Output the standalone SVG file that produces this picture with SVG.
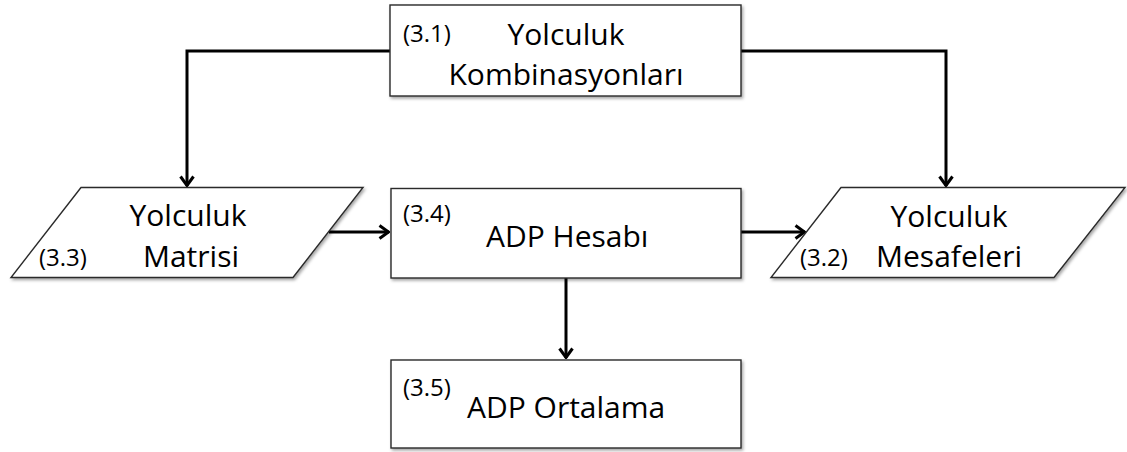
<svg xmlns="http://www.w3.org/2000/svg" width="1127" height="452" viewBox="0 0 1127 452">
  <defs>
    <filter id="shadow" x="-10%" y="-10%" width="120%" height="130%">
      <feDropShadow dx="1.5" dy="2" stdDeviation="1.5" flood-color="#000" flood-opacity="0.35"/>
    </filter>
    <marker id="arrow" viewBox="0 0 12 16" refX="11" refY="8" markerWidth="12" markerHeight="16" markerUnits="userSpaceOnUse" orient="auto">
      <path d="M1.5,1.5 L10.5,8 L1.5,14.5" fill="none" stroke="#000" stroke-width="3" stroke-linejoin="miter"/>
    </marker>
  </defs>
  <style>
    .shape { fill: #fff; stroke: #2a2a2a; stroke-width: 1.4; filter: url(#shadow); }
    .main { font-family: "Open Sans", "Noto Sans", sans-serif; font-size: 30px; fill: #000; }
    .num { font-family: "Open Sans", "Noto Sans", sans-serif; font-size: 24px; fill: #000; }
    .conn { fill: none; stroke: #000; stroke-width: 3; marker-end: url(#arrow); }
  </style>

  <rect width="1127" height="452" fill="#fff"/>

  <!-- connectors -->
  <g id="connectors">
    <path class="conn" d="M390,51 H187 V186"/>
    <path class="conn" d="M741,51 H946 V186"/>
    <path class="conn" d="M329,232 H389"/>
    <path class="conn" d="M741,232 H805"/>
    <path class="conn" d="M566,278 V358"/>
  </g>

  <!-- 3.1 -->
  <g id="node-3-1">
    <rect class="shape" x="390" y="5" width="351" height="91"/>
    <text class="num" x="403" y="42">(3.1)</text>
    <text class="main" x="566" y="45" text-anchor="middle">Yolculuk</text>
    <text class="main" x="566" y="85" text-anchor="middle">Kombinasyonları</text>
  </g>

  <!-- 3.3 -->
  <g id="node-3-3">
    <polygon class="shape" points="81,187.5 363,187.5 293,277.5 11,277.5"/>
    <text class="num" x="39" y="266">(3.3)</text>
    <text class="main" x="188" y="226" text-anchor="middle">Yolculuk</text>
    <text class="main" x="191" y="267" text-anchor="middle">Matrisi</text>
  </g>

  <!-- 3.4 -->
  <g id="node-3-4">
    <rect class="shape" x="391" y="188.5" width="350" height="89.5"/>
    <text class="num" x="403" y="222">(3.4)</text>
    <text class="main" x="486" y="247">ADP Hesabı</text>
  </g>

  <!-- 3.2 -->
  <g id="node-3-2">
    <polygon class="shape" points="841,187.5 1125,187.5 1054,277.5 771,277.5"/>
    <text class="num" x="800" y="266">(3.2)</text>
    <text class="main" x="949" y="227" text-anchor="middle">Yolculuk</text>
    <text class="main" x="949" y="267" text-anchor="middle">Mesafeleri</text>
  </g>

  <!-- 3.5 -->
  <g id="node-3-5">
    <rect class="shape" x="391" y="360" width="350" height="88"/>
    <text class="num" x="403" y="396">(3.5)</text>
    <text class="main" x="467" y="418">ADP Ortalama</text>
  </g>
</svg>
